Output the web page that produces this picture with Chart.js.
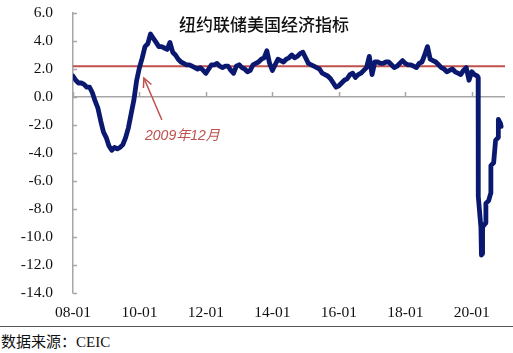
<!DOCTYPE html>
<html><head><meta charset="utf-8">
<script src="https://cdn.jsdelivr.net/npm/chart.js@4"></script>
<style>
html,body{margin:0;padding:0;background:#fff;}
#wrap{position:relative;width:513px;height:353px;overflow:hidden;background:#fff;}
#c{position:absolute;left:0;top:0;}
#title{position:absolute;left:0;width:528px;top:11px;text-align:center;font:500 17px "Noto Sans CJK SC";color:#111;white-space:nowrap;}
#rule{position:absolute;left:0;top:326px;width:513px;height:1px;background:#555;}
#src{position:absolute;left:1px;top:330px;font:15px "Liberation Serif","Noto Sans CJK SC";color:#111;white-space:nowrap;}
</style></head>
<body>
<div id="wrap">
<canvas id="c" width="513" height="326"></canvas>
<div id="title">纽约联储美国经济指标</div>
<div id="rule"></div>
<div id="src">数据来源：CEIC</div>
</div>
<script>
// Monthly readings, Jan 2008 .. Feb 2020 (x = months since 2008-01)
const monthlyValues = [
 1.5, 1.2, 1.0, 1.0, 0.9, 0.7, 0.7, 0.3,-0.3,-0.8,-1.7,-2.5,
-2.9,-3.5,-3.8,-3.6,-3.7,-3.6,-3.4,-2.9,-2.2,-1.2,-0.2, 1.2,
 2.1, 2.8, 3.6, 3.8, 4.5, 4.2, 3.9, 3.6, 3.6, 3.5, 3.4, 3.9,
 3.2, 3.0, 2.7, 2.5, 2.4, 2.3, 2.3, 2.2, 2.1, 2.0, 2.1, 1.9,
 1.7, 2.0, 2.3, 2.3, 2.4, 2.2, 2.1, 2.2, 2.2, 1.9, 1.7, 2.2,
 2.3, 2.1, 2.0, 1.8, 1.9, 2.3, 2.4, 2.5, 2.7, 2.8, 3.3, 2.4,
 1.9, 2.3, 2.7, 2.6, 2.5, 2.7, 2.8, 3.0, 2.8, 2.9, 3.1, 3.2,
 2.8, 2.4, 2.3, 2.2, 2.1, 2.0, 1.7, 1.6, 1.5, 1.3, 1.0, 0.7,
 0.8, 1.0, 1.2, 1.3, 1.6, 1.7, 1.4, 1.6, 1.7, 1.9, 2.1, 2.9,
 1.6, 2.5, 2.5, 2.4, 2.4, 2.5, 2.5, 2.3, 2.1, 2.2, 2.4, 2.6,
 2.4, 2.3, 2.3, 2.2, 2.1, 2.4, 2.5, 3.0, 3.6, 2.7, 2.6, 2.5,
 2.3, 2.1, 2.0, 1.8, 1.9, 2.0, 1.8, 1.7, 1.6, 1.9, 2.1, 1.2,
 1.8, 1.6
];
// 2020 readings at finer (weekly-ish) spacing, x in months since 2008-01
const covidMonths = [146.0,146.3,146.35,147.3,147.5,147.7,147.9,149.0,149.1,150.1,150.8,150.9,151.9,152.6,153.5,153.6,154.4,154.6];
const covidValues = [1.5, 1.4, -7.1, -9.3, -11.3, -11.2, -9.3, -9.0, -7.6, -7.4, -6.9, -4.9, -4.7, -3.1, -2.9, -1.6, -1.9, -2.1];
const xTickMonths = [0,24,48,72,96,120,144];
const xTickLabels = ['08-01','10-01','12-01','14-01','16-01','18-01','20-01'];
const refLevel = 2.2;
const annotationText = '2009年12月';

const navy = '#0b1870';
const red = '#c0504d';
const axisGray = '#a6a6a6';

const seriesPoints = monthlyValues.map((v,i)=>({x:i,y:v}))
  .concat(covidMonths.map((m,i)=>({x:m,y:covidValues[i]})));
const refPoints = [{x:0,y:refLevel},{x:156,y:refLevel}];

const decor = {
  id:'decor',
  beforeDatasetsDraw(chart){
    const {ctx, scales:{x,y}, chartArea} = chart;
    ctx.save();
    ctx.strokeStyle = axisGray; ctx.lineWidth = 1.5;
    const y0 = y.getPixelForValue(0);
    xTickMonths.forEach(m=>{
      const px = Math.round(x.getPixelForValue(m))+0.5;
      ctx.beginPath(); ctx.moveTo(px,y0-5); ctx.lineTo(px,y0); ctx.stroke();
    });
    y.ticks.forEach(t=>{
      const py = Math.round(y.getPixelForValue(t.value))+0.5;
      ctx.beginPath(); ctx.moveTo(chartArea.left,py); ctx.lineTo(chartArea.left+4,py); ctx.stroke();
    });
    ctx.restore();
  },
  afterDatasetsDraw(chart){
    const {ctx, scales:{x,y}} = chart;
    ctx.save();
    const x1 = x.getPixelForValue(32.1), y1 = y.getPixelForValue(-1.64);
    const x2 = x.getPixelForValue(25.6), y2 = y.getPixelForValue(1.36);
    ctx.strokeStyle = red; ctx.lineWidth = 1.5;
    ctx.beginPath(); ctx.moveTo(x1,y1); ctx.lineTo(x2,y2); ctx.stroke();
    const ang = Math.atan2(y1-y2, x1-x2), L = 10, a = 0.45;
    ctx.beginPath();
    ctx.moveTo(x2+L*Math.cos(ang-a), y2+L*Math.sin(ang-a));
    ctx.lineTo(x2,y2);
    ctx.lineTo(x2+L*Math.cos(ang+a), y2+L*Math.sin(ang+a));
    ctx.stroke();
    ctx.fillStyle = red;
    ctx.font = 'italic 14px "Liberation Sans","Noto Sans CJK SC"';
    ctx.textAlign = 'center'; ctx.textBaseline = 'middle';
    ctx.fillText(annotationText, x.getPixelForValue(39.5), y.getPixelForValue(-2.82));
    ctx.restore();
  }
};

new Chart(document.getElementById('c'), {
  type:'line',
  data:{datasets:[
    {data:seriesPoints, borderColor:navy, borderWidth:4.8, pointRadius:0, tension:0, borderJoinStyle:'round', borderCapStyle:'round', order:0},
    {data:refPoints, borderColor:red, borderWidth:2, pointRadius:0, order:1}
  ]},
  options:{
    responsive:false, animation:false,
    layout:{padding:{top:13,right:8,bottom:0,left:0}},
    plugins:{legend:{display:false},tooltip:{enabled:false},title:{display:false}},
    scales:{
      x:{type:'linear', min:0, max:156,
        afterBuildTicks:(s)=>{ s.ticks = xTickMonths.map(v=>({value:v})); },
        afterFit:(s)=>{ s.height = 33; },
        grid:{display:false, drawTicks:false}, border:{display:false},
        ticks:{padding:11, maxRotation:0, autoSkip:false, color:'#111',
          font:{family:'"Liberation Serif"', size:15.5},
          callback:(v)=>{ const i = xTickMonths.indexOf(v); return i>=0 ? xTickLabels[i] : ''; }}
      },
      y:{min:-14, max:6,
        afterFit:(s)=>{ s.width = 73; },
        grid:{drawTicks:true, tickLength:18, tickColor:'rgba(0,0,0,0)', lineWidth:1.5,
          color:(c)=> c.tick && c.tick.value===0 ? axisGray : 'rgba(0,0,0,0)'},
        border:{display:true, color:axisGray, width:1.5},
        ticks:{stepSize:2, padding:2, color:'#111',
          font:{family:'"Liberation Serif"', size:15.5},
          callback:(v)=>Number(v).toFixed(1)}
      }
    }
  },
  plugins:[decor]
});
</script>
</body></html>
